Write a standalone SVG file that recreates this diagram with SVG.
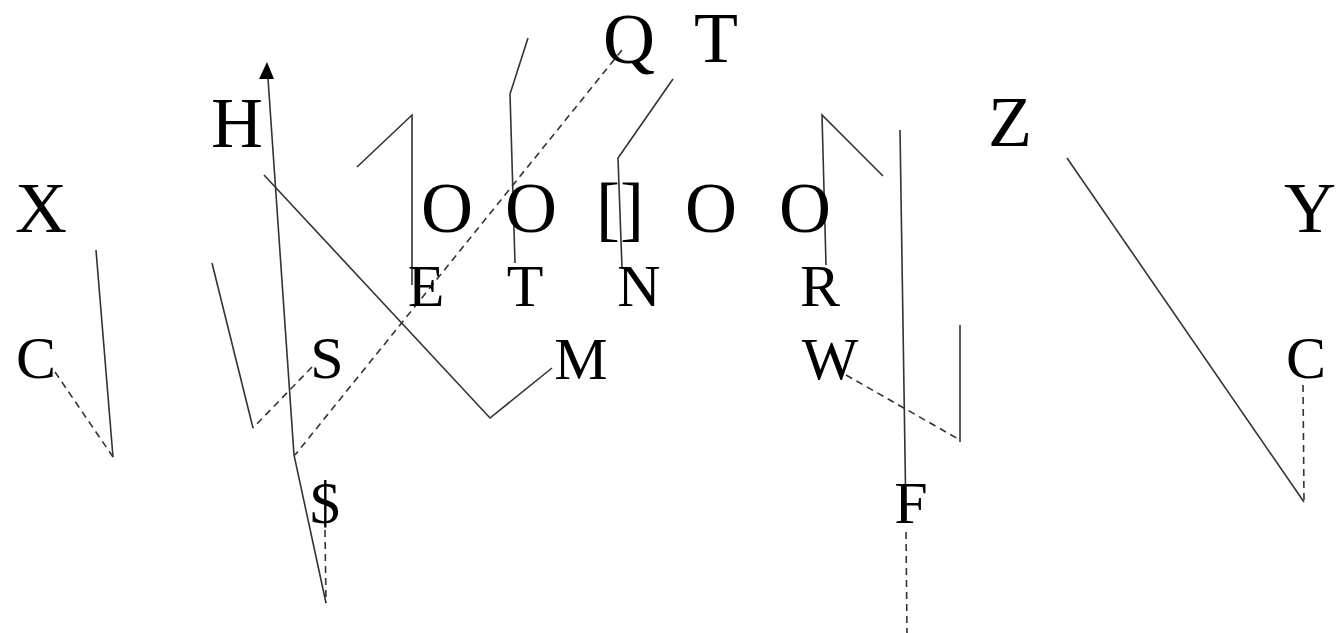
<svg xmlns="http://www.w3.org/2000/svg" width="1336" height="633" viewBox="0 0 1336 633">
<style>
.big{font-family:"Liberation Serif","Times New Roman",serif;font-size:72px;fill:#000;text-anchor:middle}
.sm{font-family:"Liberation Serif","Times New Roman",serif;font-size:60px;fill:#000;text-anchor:middle}
.s{fill:none;stroke:#333;stroke-width:1.6}
.d{fill:none;stroke:#333;stroke-width:1.6;stroke-dasharray:7,5}
</style>
<defs>
<marker id="arr" viewBox="0 0 10 10" refX="9" refY="5" markerWidth="10" markerHeight="10" markerUnits="userSpaceOnUse" orient="auto" overflow="visible">
<path d="M-6,-3 L9,5 L-6,13 Z" fill="#000"/>
</marker>
</defs>
<rect width="1336" height="633" fill="#fff"/>
<g id="connectors">
<path class="d" d="M55,372 L113,457"/>
<path class="s" d="M113,457 L96,250"/>
<path class="d" d="M312,367 L253,428"/>
<path class="s" d="M253,428 L212,263"/>
<path class="d" d="M622,50 L295,455"/>
<path class="d" d="M325,530 L326,603"/>
<path class="s" d="M326,603 L294,455 L267,64"/>
<path d="M267,62 L274,79 L259,79 Z" fill="#000"/>
<path class="s" d="M264,175 L490,418 L552,368"/>
<path class="s" d="M357,167 L412,115 L412,285"/>
<path class="s" d="M528,38 L510,94 L515,263"/>
<path class="s" d="M673,79 L618,158 L622,268"/>
<path class="s" d="M883,176 L822,115 L826,265"/>
<path class="s" d="M900,130 L906,520"/>
<path class="d" d="M906,532 L907,633"/>
<path class="d" d="M846,375 L960,440"/>
<path class="s" d="M960,442 L960,325"/>
<path class="s" d="M1067,158 L1304,502"/>
<path class="d" d="M1304,500 L1303,383"/>
</g>
<g id="n-X"><text class="big" x="41" y="232">X</text></g>
<g id="n-H"><text class="big" x="237" y="147">H</text></g>
<g id="n-Q"><text class="big" x="629" y="63">Q</text></g>
<g id="n-T1"><text class="big" x="716" y="62">T</text></g>
<g id="n-Z"><text class="big" x="1010" y="146">Z</text></g>
<g id="n-Y"><text class="big" x="1310" y="232">Y</text></g>
<g id="n-O1"><text class="big" x="447" y="232">O</text></g>
<g id="n-O2"><text class="big" x="531" y="232">O</text></g>
<g id="n-C0"><text class="big" x="620" y="232">[]</text></g>
<g id="n-O3"><text class="big" x="711" y="232">O</text></g>
<g id="n-O4"><text class="big" x="805" y="232">O</text></g>
<g id="n-E"><text class="sm" x="426" y="306">E</text></g>
<g id="n-T2"><text class="sm" x="525" y="306">T</text></g>
<g id="n-N"><text class="sm" x="639" y="306">N</text></g>
<g id="n-R"><text class="sm" x="820" y="306">R</text></g>
<g id="n-C1"><text class="sm" x="36" y="378">C</text></g>
<g id="n-S"><text class="sm" x="327" y="378">S</text></g>
<g id="n-M"><text class="sm" x="581" y="379">M</text></g>
<g id="n-W"><text class="sm" x="830" y="379">W</text></g>
<g id="n-C2"><text class="sm" x="1306" y="378">C</text></g>
<g id="n-D"><text class="sm" x="325" y="523">$</text></g>
<g id="n-F"><text class="sm" x="911" y="523">F</text></g>
</svg>
